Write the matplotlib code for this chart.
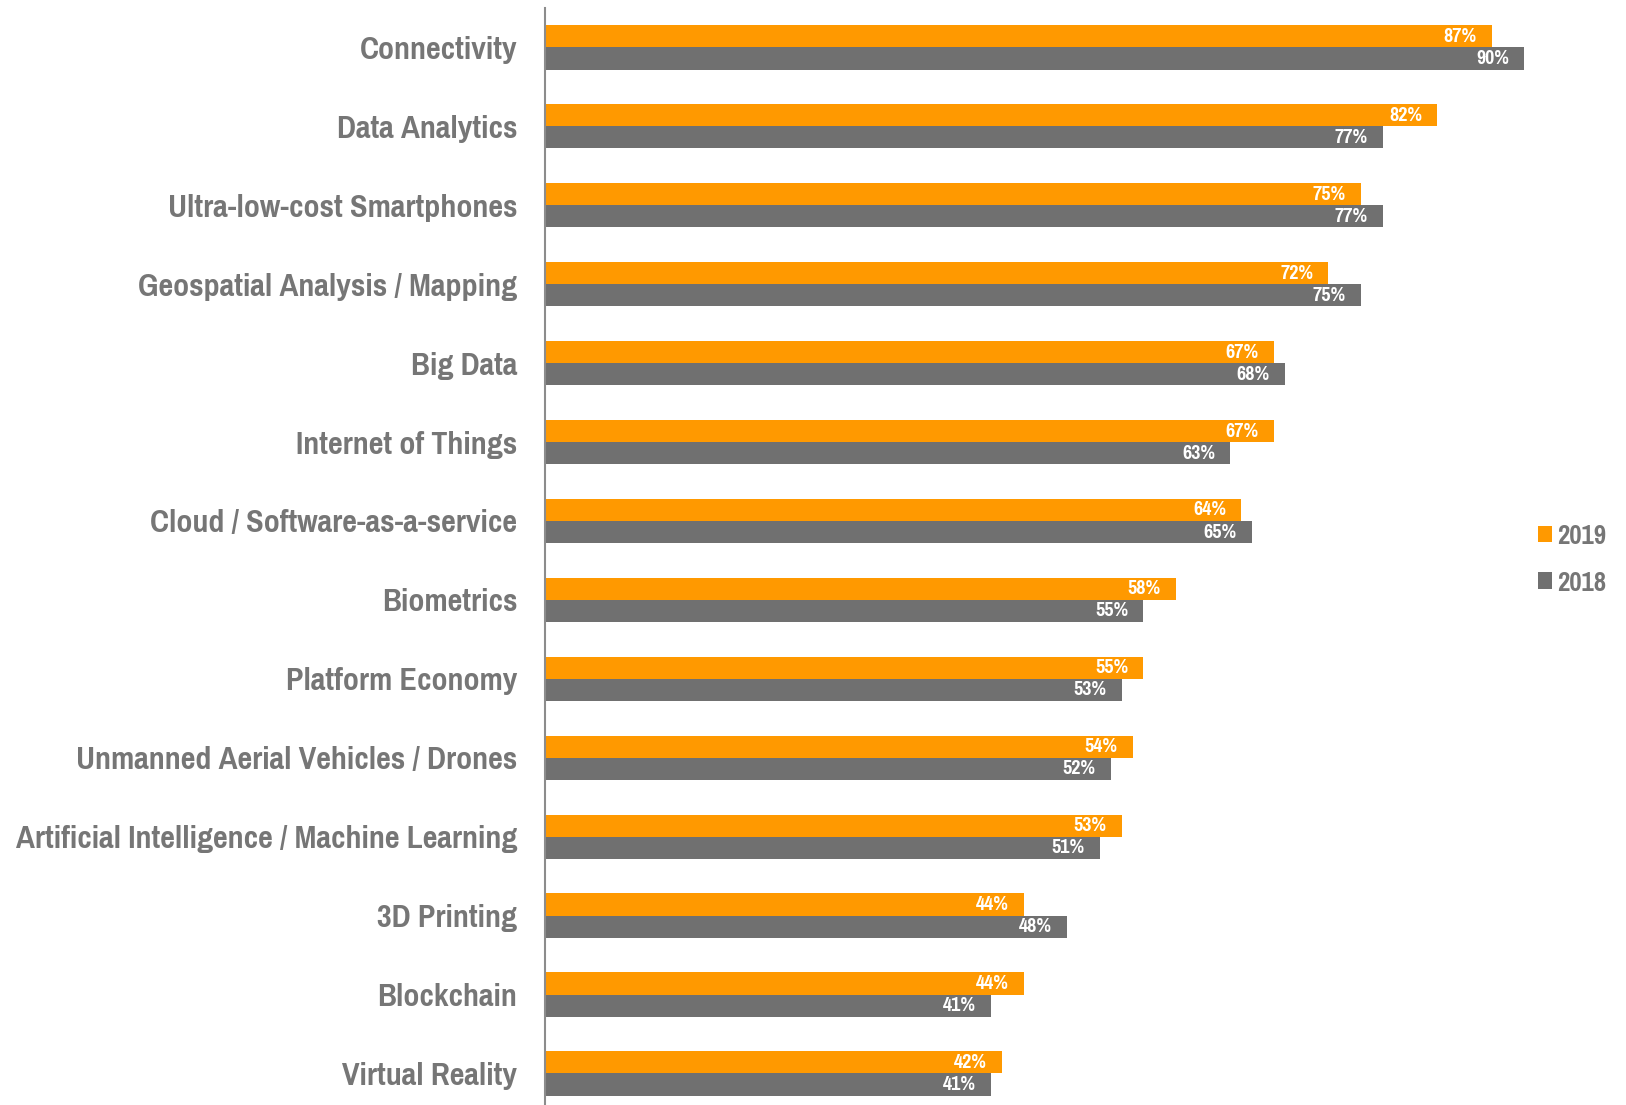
import matplotlib
matplotlib.use("Agg")
import matplotlib.pyplot as plt
from matplotlib import font_manager
from matplotlib.font_manager import FontProperties
import numpy as np

categories = ["Connectivity", "Data Analytics", "Ultra-low-cost Smartphones",
              "Geospatial Analysis / Mapping", "Big Data", "Internet of Things",
              "Cloud / Software-as-a-service", "Biometrics", "Platform Economy",
              "Unmanned Aerial Vehicles / Drones",
              "Artificial Intelligence / Machine Learning", "3D Printing",
              "Blockchain", "Virtual Reality"]
values_2019 = [87, 82, 75, 72, 67, 67, 64, 58, 55, 54, 53, 44, 44, 42]
values_2018 = [90, 77, 77, 75, 68, 63, 65, 55, 53, 52, 51, 48, 41, 41]
series_labels = ["2019", "2018"]


def pick_font():
    # prefer a narrow / condensed bold face, else Liberation Sans bold
    best = None
    for f in font_manager.fontManager.ttflist:
        nm = f.name.lower()
        w = f.weight if isinstance(f.weight, int) else (700 if "bold" in str(f.weight) else 400)
        cond = ("narrow" in nm or "condensed" in nm or
                str(f.stretch) in ("condensed", "semi-condensed", "extra-condensed"))
        if cond and w >= 600 and f.style == "normal":
            if best is None or "narrow" in nm:
                best = f
    if best is not None:
        return FontProperties(fname=best.fname)
    return FontProperties(family=["Liberation Sans", "DejaVu Sans"], weight="bold")


base = pick_font()

ORANGE = "#FF9900"
GRAY = "#707070"
LABEL = "#767676"

fig = plt.figure(figsize=(16.26, 11.05), dpi=100)
renderer = fig.canvas.get_renderer()


def fit_size(text, target_px, max_size):
    fp = base.copy()
    fp.set_size(20)
    t = fig.text(0, 0, text, fontproperties=fp)
    w = t.get_window_extent(renderer).width
    t.remove()
    return min(max_size, 20 * target_px / w)


lab_size = fit_size("Artificial Intelligence / Machine Learning", 501, 26)
val_size = fit_size("87%", 33, 16)
leg_size = fit_size("2019", 49, 22)

ax = fig.add_axes([545/1626, 0.0, (1540-545)/1626, 1 - 8/1105])

y = np.arange(len(categories))
h = 0.28
b19 = ax.barh(y - h/2, values_2019, height=h, color=ORANGE, label=series_labels[0])
b18 = ax.barh(y + h/2, values_2018, height=h, color=GRAY, label=series_labels[1])

vfp = base.copy()
vfp.set_size(val_size)
for bars, vals in ((b19, values_2019), (b18, values_2018)):
    for rect, v in zip(bars, vals):
        ax.annotate(f"{v}%", xy=(rect.get_width(), rect.get_y() + rect.get_height()/2),
                    xytext=(-11, 0), textcoords="offset points",
                    ha="right", va="center", color="white", fontproperties=vfp)

ax.set_xlim(0, (1540-545)/10.88)
ax.set_ylim(13.4, -0.5)
ax.set_yticks(y)
lfp = base.copy()
lfp.set_size(lab_size)
ax.set_yticklabels(categories, fontproperties=lfp, color=LABEL)
ax.tick_params(axis="y", length=0, pad=20)
ax.set_xticks([])
for s in ["top", "right", "bottom"]:
    ax.spines[s].set_visible(False)
ax.spines["left"].set_color("#8c8c8c")
ax.spines["left"].set_linewidth(1.5)

gfp = base.copy()
gfp.set_size(leg_size)
em = leg_size * 100 / 72.0
leg = fig.legend(handles=[b19, b18], labels=series_labels, loc="center left",
                 bbox_to_anchor=(1512/1626, 1 - 560/1105), frameon=False,
                 handlelength=14/em, handleheight=14/em, handletextpad=5/em,
                 labelspacing=0.75, prop=gfp)
for t in leg.get_texts():
    t.set_color(LABEL)

fig.savefig("out.png", dpi=100)
